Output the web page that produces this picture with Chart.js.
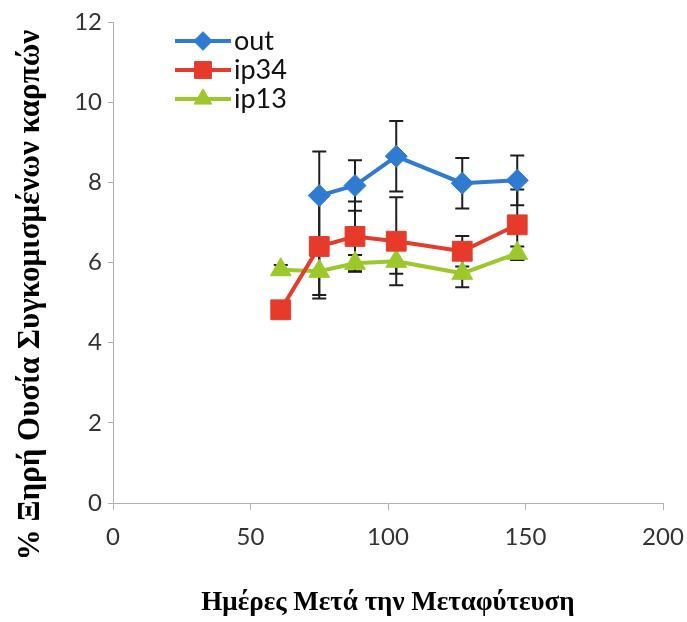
<!DOCTYPE html>
<html>
<head>
<meta charset="utf-8">
<script src="https://cdn.jsdelivr.net/npm/chart.js@4/dist/chart.umd.min.js"></script>
<style>
  html, body { margin: 0; padding: 0; background: #fff; }
</style>
</head>
<body>
<canvas id="dryMatterChart" width="687" height="622"></canvas>
<script>
// days after transplanting
var days = [61, 75, 88, 103, 127, 147];

// % dry matter of harvested fruit, with standard deviations
var outValues = [null, 7.67, 7.92, 8.65, 7.98, 8.05];
var outErrors = [null, 1.1, 0.63, 0.88, 0.63, 0.62];
var ip34Values = [4.82, 6.4, 6.65, 6.53, 6.28, 6.94];
var ip34Errors = [0, 1.3, 0.87, 1.1, 0.38, 0.88];
var ip13Values = [5.82, 5.78, 5.98, 6.03, 5.73, 6.23];
var ip13Errors = [0.12, 0.59, 0.21, 0.31, 0.35, 0.17];

var xTicks = [0, 50, 100, 150, 200];
var yTicks = [0, 2, 4, 6, 8, 10, 12];

var xTitle = 'Ημέρες Μετά την Μεταφύτευση';
var yTitle = '% Ξηρή Ουσία Συγκομισμένων καρπών';

function toPoints(values) {
    var pts = [];
    values.forEach(function (v, i) {
        if (v !== null) pts.push({ x: days[i], y: v });
    });
    return pts;
}

var tickFont = { family: 'Lato', size: 24 };
var axisColor = '#b0b0b0';

// black error bars, drawn under the lines and markers
var errorBars = {
    id: 'errorBars',
    beforeDatasetsDraw: function (chart) {
        var ctx = chart.ctx;
        var xs = chart.scales.x, ys = chart.scales.y;
        ctx.save();
        ctx.strokeStyle = '#1e1e1e';
        ctx.lineWidth = 2;
        chart.data.datasets.forEach(function (ds) {
            ds.values.forEach(function (v, i) {
                var err = ds.errors[i];
                if (v === null || !err) return;
                var px = xs.getPixelForValue(days[i]);
                var top = ys.getPixelForValue(v + err);
                var bottom = ys.getPixelForValue(v - err);
                ctx.beginPath();
                ctx.moveTo(px, top); ctx.lineTo(px, bottom);
                ctx.moveTo(px - 7, top); ctx.lineTo(px + 7, top);
                ctx.moveTo(px - 7, bottom); ctx.lineTo(px + 7, bottom);
                ctx.stroke();
            });
        });
        ctx.restore();
    }
};

// legend sits inside the plot, top left
var innerLegend = {
    id: 'innerLegend',
    afterDraw: function (chart) {
        var ctx = chart.ctx;
        ctx.save();
        chart.data.datasets.forEach(function (ds, i) {
            var y = 41 + i * 29;
            ctx.strokeStyle = ds.borderColor;
            ctx.lineWidth = 4;
            ctx.beginPath();
            ctx.moveTo(175, y); ctx.lineTo(231, y);
            ctx.stroke();
            ctx.fillStyle = ds.pointBackgroundColor;
            ctx.strokeStyle = ds.borderColor;
            ctx.lineWidth = 1;
            Chart.helpers.drawPoint(ctx, {
                pointStyle: ds.pointStyle,
                radius: ds.pointRadius * 0.85,
                rotation: 0,
                borderWidth: 1
            }, 203, y);
            ctx.fillStyle = '#111';
            ctx.font = '27px Lato';
            ctx.textAlign = 'left';
            ctx.textBaseline = 'middle';
            ctx.fillText(ds.label, 234, y);
        });
        ctx.restore();
    }
};

// rotated y title, placed lower than the axis centre
var yAxisTitle = {
    id: 'yAxisTitle',
    afterDraw: function (chart) {
        var ctx = chart.ctx;
        ctx.save();
        ctx.translate(31, 295);
        ctx.rotate(-Math.PI / 2);
        ctx.font = 'bold 31px "Liberation Serif"';
        ctx.fillStyle = '#000';
        ctx.textAlign = 'center';
        ctx.textBaseline = 'middle';
        ctx.fillText(yTitle, 0, 0);
        ctx.restore();
    }
};

function makeSeries(label, values, errors, color, style, radius) {
    return {
        label: label,
        data: toPoints(values),
        values: values,
        errors: errors,
        borderColor: color,
        backgroundColor: color,
        pointBackgroundColor: color,
        pointBorderColor: color,
        pointStyle: style,
        pointRadius: radius,
        pointBorderWidth: 1,
        borderWidth: 4,
        tension: 0
    };
}

var ctx = document.getElementById('dryMatterChart').getContext('2d');
var chart = new Chart(ctx, {
    type: 'line',
    data: {
        datasets: [
            makeSeries('out', outValues, outErrors, '#2f7bd2', 'rectRot', 11),
            makeSeries('ip34', ip34Values, ip34Errors, '#e63b2b', 'rect', 14),
            makeSeries('ip13', ip13Values, ip13Errors, '#9cc82c', 'triangle', 12)
        ]
    },
    options: {
        responsive: false,
        animation: false,
        devicePixelRatio: 1,
        events: [],
        layout: { padding: { top: 22, right: 24, left: 0, bottom: 0 } },
        plugins: {
            legend: { display: false },
            tooltip: { enabled: false }
        },
        scales: {
            x: {
                type: 'linear',
                min: 0,
                max: 200,
                afterBuildTicks: function (scale) {
                    scale.ticks = xTicks.map(function (v) { return { value: v }; });
                },
                ticks: { font: tickFont, color: '#333', padding: 13 },
                grid: { drawOnChartArea: false, tickLength: 7, color: axisColor },
                border: { color: axisColor, dash: [2, 1] },
                title: {
                    display: true,
                    text: xTitle,
                    color: '#000',
                    font: { family: 'Liberation Serif', size: 27, weight: 'bold' },
                    padding: { top: 0, bottom: 3 }
                },
                afterFit: function (scale) {
                    scale.height = 622 - 503;
                    scale.paddingLeft = 0;
                    scale.paddingRight = 0;
                }
            },
            y: {
                min: 0,
                max: 12,
                afterBuildTicks: function (scale) {
                    scale.ticks = yTicks.map(function (v) { return { value: v }; });
                },
                ticks: { font: tickFont, color: '#333', padding: 6 },
                grid: { drawOnChartArea: false, tickLength: 5, color: axisColor },
                border: { color: axisColor, dash: [2, 1] },
                afterFit: function (scale) {
                    scale.width = 113;
                    scale.paddingTop = 0;
                    scale.paddingBottom = 0;
                }
            }
        }
    },
    plugins: [errorBars, innerLegend, yAxisTitle]
});
</script>
</body>
</html>
